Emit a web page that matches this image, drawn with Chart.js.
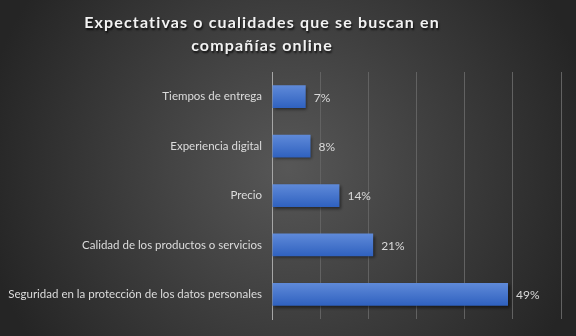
<!DOCTYPE html>
<html>
<head>
<meta charset="utf-8">
<script src="https://cdn.jsdelivr.net/npm/chart.js@4.4.1/dist/chart.umd.min.js"></script>
<style>
  html, body { margin: 0; padding: 0; background: #262626; }
  #wrap { width: 576px; height: 336px; position: relative; }
</style>
</head>
<body>
<div id="wrap"><canvas id="chart" width="576" height="336"></canvas></div>
<script>
// Survey results: qualities people look for in online companies
const categories = [
  'Tiempos de entrega',
  'Experiencia digital',
  'Precio',
  'Calidad de los productos o servicios',
  'Seguridad en la protección de los datos personales'
];
const shares = [0.07, 0.08, 0.14, 0.21, 0.49];
const titleLines = ['Expectativas o cualidades que se buscan en', 'compañías online'];

// Dark radial backdrop behind the whole chart
const backdrop = {
  id: 'backdrop',
  beforeDraw(chart) {
    const { ctx, width, height } = chart;
    const g = ctx.createRadialGradient(width / 2, height / 2, 0, width / 2, height / 2, 310);
    g.addColorStop(0, '#575757');
    g.addColorStop(1, '#252525');
    ctx.save();
    ctx.fillStyle = g;
    ctx.fillRect(0, 0, width, height);
    ctx.restore();
  }
};

// Spaced, shadowed two-line heading
const heading = {
  id: 'heading',
  afterDraw(chart) {
    const { ctx } = chart;
    ctx.save();
    ctx.font = 'bold 16px Lato';
    ctx.letterSpacing = '1.15px';
    ctx.textAlign = 'center';
    ctx.textBaseline = 'alphabetic';
    ctx.fillStyle = '#f2f2f2';
    ctx.shadowColor = 'rgba(0,0,0,0.75)';
    ctx.shadowOffsetX = 1;
    ctx.shadowOffsetY = 1.5;
    ctx.shadowBlur = 2;
    ctx.fillText(titleLines[0], 262, 28);
    ctx.fillText(titleLines[1], 262, 51);
    ctx.restore();
  }
};

// Soft drop shadow under the bars
const barShadow = {
  id: 'barShadow',
  beforeDatasetDraw(chart) {
    const { ctx } = chart;
    ctx.save();
    ctx.shadowColor = 'rgba(0,0,0,0.5)';
    ctx.shadowOffsetX = 1.5;
    ctx.shadowOffsetY = 2;
    ctx.shadowBlur = 3;
  },
  afterDatasetDraw(chart) {
    chart.ctx.restore();
  }
};

// Percentage labels at the end of each bar
const valueLabels = {
  id: 'valueLabels',
  afterDatasetsDraw(chart) {
    const { ctx } = chart;
    const meta = chart.getDatasetMeta(0);
    ctx.save();
    ctx.font = '12px Lato';
    ctx.fillStyle = '#d9d9d9';
    ctx.textAlign = 'left';
    ctx.textBaseline = 'middle';
    meta.data.forEach((bar, i) => {
      const v = chart.data.datasets[0].data[i];
      ctx.fillText(Math.round(v * 100) + '%', bar.x + 8, bar.y + 1);
    });
    ctx.restore();
  }
};

function barFill(context) {
  const chart = context.chart;
  const yScale = chart.scales.y;
  if (!chart.chartArea || !yScale) return '#4472c4';
  const yc = yScale.getPixelForValue(context.dataIndex);
  const half = yScale.height / categories.length * 0.46 / 2;
  const g = chart.ctx.createLinearGradient(0, yc - half, 0, yc + half);
  g.addColorStop(0, '#5f8ad9');
  g.addColorStop(1, '#2f61bf');
  return g;
}

new Chart(document.getElementById('chart'), {
  type: 'bar',
  data: {
    labels: categories,
    datasets: [{
      data: shares,
      backgroundColor: barFill,
      borderWidth: 0,
      barPercentage: 0.46,
      categoryPercentage: 1
    }]
  },
  options: {
    indexAxis: 'y',
    responsive: false,
    animation: false,
    devicePixelRatio: 1,
    layout: { padding: { top: 72, right: 15, bottom: 14, left: 0 } },
    plugins: {
      legend: { display: false },
      title: { display: false },
      tooltip: { enabled: false }
    },
    scales: {
      x: {
        min: 0,
        max: 0.6,
        ticks: { display: false, stepSize: 0.1 },
        grid: { color: '#626262', lineWidth: 1, drawTicks: false },
        border: { display: false },
        afterFit(scale) { scale.height = 0; }
      },
      y: {
        grid: { display: false, drawTicks: false },
        border: { display: true, color: '#a6a6a6', width: 1 },
        ticks: {
          color: '#dcdcdc',
          font: { family: 'Lato', size: 11.5 },
          padding: 10
        },
        afterFit(scale) { scale.width = 272; }
      }
    }
  },
  plugins: [backdrop, barShadow, valueLabels, heading]
});
</script>
</body>
</html>
